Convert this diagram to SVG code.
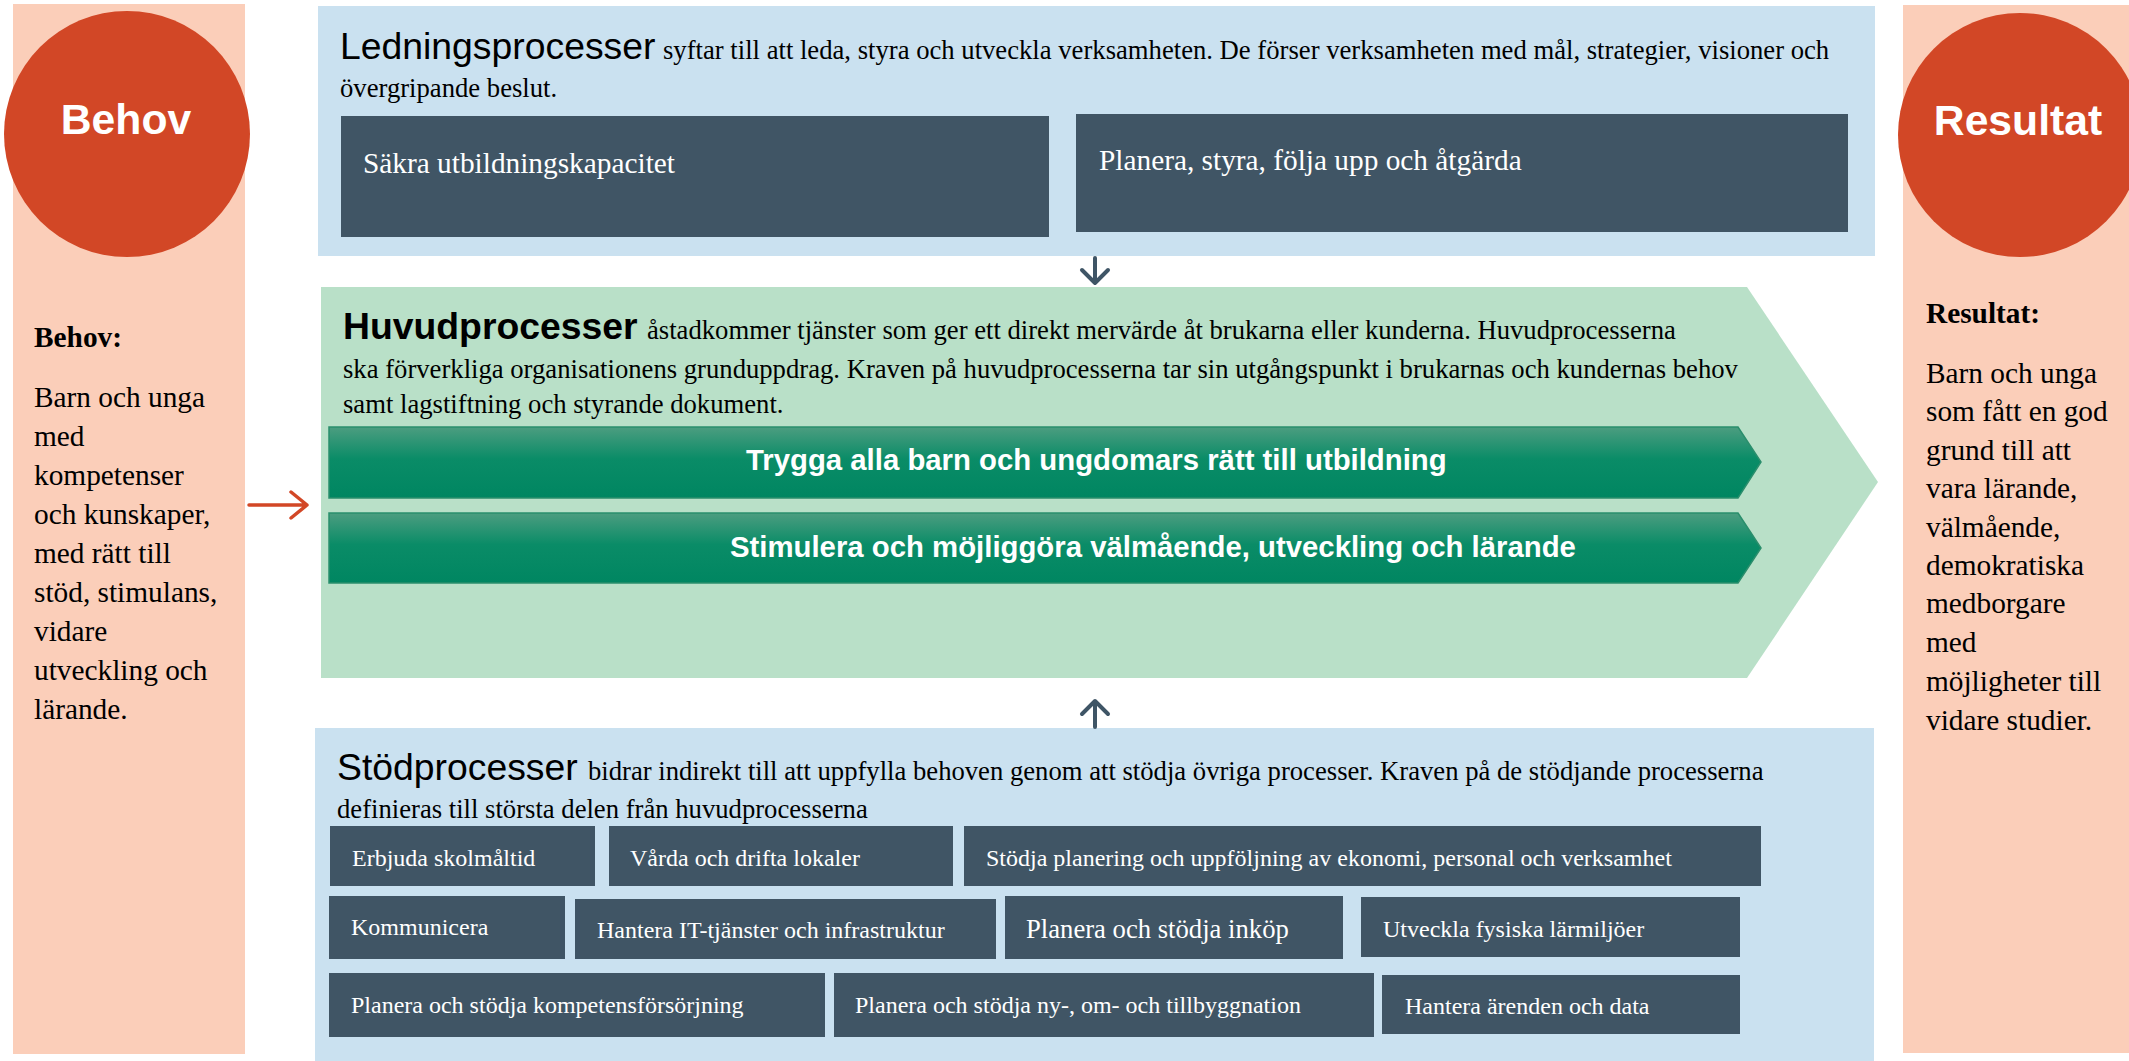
<svg xmlns="http://www.w3.org/2000/svg" width="2129" height="1061" viewBox="0 0 2129 1061">
<defs>
<linearGradient id="gbar" x1="0" y1="0" x2="0" y2="1">
<stop offset="0" stop-color="#4C9D80"/>
<stop offset="0.45" stop-color="#0A8C67"/>
<stop offset="1" stop-color="#008661"/>
</linearGradient>
<style>
.pink{fill:#FBCEB9}
.circ{fill:#D24726}
.lblue{fill:#CAE1F0}
.lgreen{fill:#B9E0C8}
.dark{fill:#405565}
.bar{fill:url(#gbar);stroke:#2A8E6C;stroke-width:1.5}
.ctitle{font-family:"Liberation Sans",Arial,sans-serif;font-weight:bold;font-size:42.67px;fill:#fff;text-anchor:middle}
.colh{font-family:"Liberation Serif","Times New Roman",serif;font-weight:bold;font-size:29.33px;fill:#000}
.colt{font-family:"Liberation Serif","Times New Roman",serif;font-size:29.33px;fill:#000}
.h{font-family:"Liberation Sans",Arial,sans-serif;font-size:37.33px;fill:#000}
.hb{font-family:"Liberation Sans",Arial,sans-serif;font-weight:bold;font-size:37.33px;fill:#000}
.b{font-family:"Liberation Serif","Times New Roman",serif;font-size:26.67px;fill:#000}
.bx{font-family:"Liberation Serif","Times New Roman",serif;font-size:29.33px;fill:#fff}
.sx{font-family:"Liberation Serif","Times New Roman",serif;font-size:24px;fill:#fff}
.sx2{font-family:"Liberation Serif","Times New Roman",serif;font-size:26.67px;fill:#fff}
.bart{font-family:"Liberation Sans",Arial,sans-serif;font-weight:bold;font-size:29.33px;fill:#fff}
.conn{fill:none;stroke:#3F5566;stroke-width:4;stroke-linecap:round;stroke-linejoin:round}
.conr{fill:none;stroke:#D24726;stroke-width:3.5;stroke-linecap:round;stroke-linejoin:round}
</style>
</defs>
<rect width="2129" height="1061" fill="#fff"/>

<g id="behov">
<rect class="pink" x="13" y="4" width="232" height="1050"/>
<circle class="circ" cx="127" cy="134" r="123"/>
<text class="ctitle" x="126" y="134">Behov</text>
<text class="colh" x="34" y="347">Behov:</text>
<text class="colt" x="34" y="407">Barn och unga</text>
<text class="colt" x="34" y="446">med</text>
<text class="colt" x="34" y="485">kompetenser</text>
<text class="colt" x="34" y="524">och kunskaper,</text>
<text class="colt" x="34" y="563">med rätt till</text>
<text class="colt" x="34" y="602">stöd, stimulans,</text>
<text class="colt" x="34" y="641">vidare</text>
<text class="colt" x="34" y="680">utveckling och</text>
<text class="colt" x="34" y="719">lärande.</text>
</g>

<g id="resultat">
<rect class="pink" x="1903" y="5" width="226" height="1048"/>
<circle class="circ" cx="2020" cy="135" r="122"/>
<text class="ctitle" x="2018" y="135">Resultat</text>
<text class="colh" x="1926" y="323">Resultat:</text>
<text class="colt" x="1926" y="383">Barn och unga</text>
<text class="colt" x="1926" y="421">som fått en god</text>
<text class="colt" x="1926" y="460">grund till att</text>
<text class="colt" x="1926" y="498">vara lärande,</text>
<text class="colt" x="1926" y="537">välmående,</text>
<text class="colt" x="1926" y="575">demokratiska</text>
<text class="colt" x="1926" y="613">medborgare</text>
<text class="colt" x="1926" y="652">med</text>
<text class="colt" x="1926" y="691">möjligheter till</text>
<text class="colt" x="1926" y="730">vidare studier.</text>
</g>

<g id="ledningsprocesser">
<rect class="lblue" x="318" y="6" width="1557" height="250"/>
<text x="340" y="59"><tspan class="h">Ledningsprocesser</tspan><tspan class="b" x="663">syftar till att leda, styra och utveckla verksamheten. De förser verksamheten med mål, strategier, visioner och</tspan></text>
<text class="b" x="340" y="97">övergripande beslut.</text>
<g id="sakra-utbildningskapacitet">
<rect class="dark" x="341" y="116" width="708" height="121"/>
<text class="bx" x="363" y="173">Säkra utbildningskapacitet</text>
</g>
<g id="planera-styra">
<rect class="dark" x="1076" y="114" width="772" height="118"/>
<text class="bx" x="1099" y="170">Planera, styra, följa upp och åtgärda</text>
</g>
</g>

<g id="huvudprocesser">
<polygon class="lgreen" points="321,287 1747,287 1878,482 1747,678 321,678"/>
<text x="343" y="339"><tspan class="hb">Huvudprocesser</tspan><tspan class="b" x="647">åstadkommer tjänster som ger ett direkt mervärde åt brukarna eller kunderna. Huvudprocesserna</tspan></text>
<text class="b" x="343" y="378">ska förverkliga organisationens grunduppdrag. Kraven på huvudprocesserna tar sin utgångspunkt i brukarnas och kundernas behov</text>
<text class="b" x="343" y="413">samt lagstiftning och styrande dokument.</text>
<g id="trygga">
<polygon class="bar" points="329,427 1738,427 1761,462 1738,498 329,498"/>
<text class="bart" x="746" y="470">Trygga alla barn och ungdomars rätt till utbildning</text>
</g>
<g id="stimulera">
<polygon class="bar" points="329,513 1738,513 1761,548 1738,583 329,583"/>
<text class="bart" x="730" y="557">Stimulera och möjliggöra välmående, utveckling och lärande</text>
</g>
</g>

<g id="stodprocesser">
<rect class="lblue" x="315" y="728" width="1559" height="333"/>
<text x="337" y="780"><tspan class="h">Stödprocesser</tspan><tspan class="b" x="588">bidrar indirekt till att uppfylla behoven genom att stödja övriga processer. Kraven på de stödjande processerna</tspan></text>
<text class="b" x="337" y="818">definieras till största delen från huvudprocesserna</text>
<g id="s1"><rect class="dark" x="330" y="826" width="265" height="60"/><text class="sx" x="352" y="866">Erbjuda skolmåltid</text></g>
<g id="s2"><rect class="dark" x="609" y="826" width="344" height="60"/><text class="sx" x="630" y="866">Vårda och drifta lokaler</text></g>
<g id="s3"><rect class="dark" x="964" y="826" width="797" height="60"/><text class="sx" x="986" y="866">Stödja planering och uppföljning av ekonomi, personal och verksamhet</text></g>
<g id="s4"><rect class="dark" x="329" y="896" width="236" height="63"/><text class="sx" x="351" y="935">Kommunicera</text></g>
<g id="s5"><rect class="dark" x="575" y="899" width="421" height="60"/><text class="sx" x="597" y="938">Hantera IT-tjänster och infrastruktur</text></g>
<g id="s6"><rect class="dark" x="1005" y="896" width="338" height="63"/><text class="sx2" x="1026" y="938">Planera och stödja inköp</text></g>
<g id="s7"><rect class="dark" x="1361" y="897" width="379" height="60"/><text class="sx" x="1383" y="937">Utveckla fysiska lärmiljöer</text></g>
<g id="s8"><rect class="dark" x="329" y="973" width="496" height="64"/><text class="sx" x="351" y="1013">Planera och stödja kompetensförsörjning</text></g>
<g id="s9"><rect class="dark" x="834" y="973" width="540" height="64"/><text class="sx" x="855" y="1013">Planera och stödja ny-, om- och tillbyggnation</text></g>
<g id="s10"><rect class="dark" x="1382" y="975" width="358" height="59"/><text class="sx" x="1405" y="1014">Hantera ärenden och data</text></g>
</g>

<g id="connectors">
<path class="conn" d="M1095,258 V283 M1082,270 L1095,283 L1108,270"/>
<path class="conn" d="M1095,727 V701 M1082,714 L1095,701 L1108,714"/>
<path class="conr" d="M249,505 H307 M291,492 L307,505 L291,518"/>
</g>
</svg>
